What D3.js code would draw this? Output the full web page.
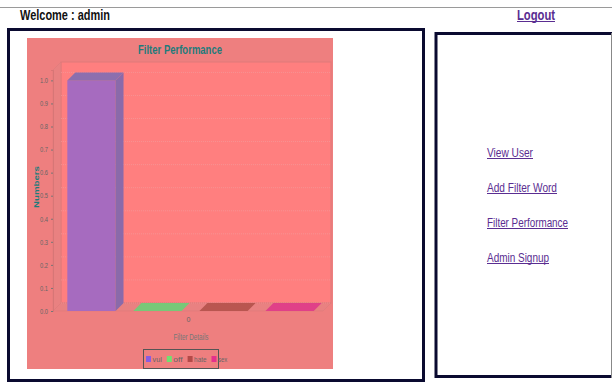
<!DOCTYPE html>
<html lang="en">
<head>
<meta charset="utf-8">
<title>Filter Performance</title>
<script src="https://cdn.jsdelivr.net/npm/d3@7"></script>
<style>
  body { margin: 0; background: #fff; }
  svg { display: block; font-family: "Liberation Sans", Arial, sans-serif; }
</style>
</head>
<body>
<script>
// data
const categories = ["0"];
const seriesNames = ["vul", "off", "hate", "sex"];
const seriesValues = [1, 0, 0, 0];
const menuLinks = ["View User", "Add Filter Word", "Filter Performance", "Admin Signup"];

const W = 612, H = 383;
const svg = d3.select("body").append("svg").attr("width", W).attr("height", H);

// page header
svg.append("line").attr("x1", 0).attr("x2", W).attr("y1", 7.5).attr("y2", 7.5)
   .attr("stroke", "#9a9a9a");
svg.append("text").text("Welcome : admin")
   .attr("x", 20).attr("y", 20).attr("font-size", 14).attr("font-weight", "bold")
   .attr("textLength", 90).attr("lengthAdjust", "spacingAndGlyphs").attr("fill", "#111");
svg.append("text").text("Logout")
   .attr("x", 517).attr("y", 20).attr("font-size", 14).attr("font-weight", "bold")
   .attr("textLength", 38).attr("lengthAdjust", "spacingAndGlyphs").attr("fill", "#5a2d91");
svg.append("line").attr("x1", 517).attr("x2", 555).attr("y1", 21.5).attr("y2", 21.5)
   .attr("stroke", "#5a2d91").attr("stroke-width", 1.2);

// panels
svg.append("rect").attr("x", 8.5).attr("y", 29.5).attr("width", 415).attr("height", 351)
   .attr("fill", "none").attr("stroke", "#0a0a30").attr("stroke-width", 3);
svg.append("rect").attr("x", 436).attr("y", 33.5).attr("width", 190).attr("height", 343)
   .attr("fill", "none").attr("stroke", "#0a0a30").attr("stroke-width", 3);
svg.append("rect").attr("x", 611).attr("y", 33).attr("width", 1).attr("height", 345).attr("fill", "#888");

// menu links
const linkW = {"View User": 46, "Add Filter Word": 70, "Filter Performance": 81, "Admin Signup": 62};
const linkY = d3.scalePoint().domain(menuLinks).range([152, 257]);
const links = svg.selectAll("g.link").data(menuLinks).enter().append("g").attr("class", "link");
links.append("text").text(d => d)
   .attr("x", 487).attr("y", d => linkY(d) + 4.5)
   .attr("font-size", 13).attr("fill", "#5a2d91")
   .attr("textLength", d => linkW[d])
   .attr("lengthAdjust", "spacingAndGlyphs");
links.append("line")
   .attr("x1", 487).attr("x2", d => 487 + linkW[d])
   .attr("y1", d => linkY(d) + 6.5).attr("y2", d => linkY(d) + 6.5)
   .attr("stroke", "#5a2d91");

// chart image
const chart = svg.append("g");
chart.append("rect").attr("x", 27).attr("y", 38).attr("width", 306).attr("height", 331).attr("fill", "#ee7f7f");
chart.append("text").text("Filter Performance")
   .attr("x", 180).attr("y", 54).attr("text-anchor", "middle")
   .attr("font-size", 13).attr("font-weight", "bold").attr("fill", "#1e7b7b")
   .attr("textLength", 84).attr("lengthAdjust", "spacingAndGlyphs");

const dx = 8, dy = 8;
const plotL = 53, plotR = 323, plotT = 70, plotB = 311;
const y = d3.scaleLinear().domain([0, 1.045]).range([plotB, plotT]);
const x0 = d3.scaleBand().domain(categories).range([55, 326]).paddingOuter(0.05);
const x1 = d3.scaleBand().domain(seriesNames).range([0, x0.bandwidth()]).paddingInner(0.27);

// walls
chart.append("rect").attr("x", plotL + dx).attr("y", plotT - dy)
   .attr("width", plotR - plotL).attr("height", plotB - plotT)
   .attr("fill", "#ff7f7f").attr("stroke", "#e07a7a");
chart.append("polygon")
   .attr("points", [[plotL, plotT], [plotL + dx, plotT - dy], [plotL + dx, plotB - dy], [plotL, plotB]].join(" "))
   .attr("fill", "#e98181").attr("stroke", "#dd7a7a").attr("stroke-width", 0.6);
chart.append("polygon")
   .attr("points", [[plotL, plotB], [plotL + dx, plotB - dy], [plotR + dx, plotB - dy], [plotR, plotB]].join(" "))
   .attr("fill", "#e98181").attr("stroke", "#dd7a7a").attr("stroke-width", 0.6);

// gridlines on back wall
chart.selectAll("line.grid").data(y.ticks(10)).enter().append("line").attr("class", "grid")
   .attr("x1", plotL + dx).attr("x2", plotR + dx)
   .attr("y1", d => y(d) - dy).attr("y2", d => y(d) - dy)
   .attr("stroke", "#f2a0a0").attr("stroke-width", 0.6).attr("stroke-dasharray", "1,1");

// y axis
const yAxis = chart.append("g").attr("transform", `translate(${plotL},0)`)
   .call(d3.axisLeft(y).ticks(10).tickFormat(d3.format(".1f")).tickSize(2).tickPadding(3));
yAxis.select(".domain").attr("stroke", "#cc7070").attr("stroke-width", 0.6);
yAxis.selectAll(".tick line").attr("stroke", "#777");
yAxis.selectAll(".tick text").attr("font-size", 7).attr("fill", "#666")
   .attr("font-family", "'Liberation Sans', Arial, sans-serif")
   .attr("textLength", 8).attr("lengthAdjust", "spacingAndGlyphs");
chart.append("text").text("Numbers")
   .attr("transform", "translate(38.5,187) rotate(-90)").attr("text-anchor", "middle")
   .attr("font-size", 8).attr("font-weight", "bold").attr("fill", "#1e7b7b")
   .attr("textLength", 42).attr("lengthAdjust", "spacingAndGlyphs");

// bars
const front = {vul: "#a66bbf", off: "#80cc80", hate: "#c05a52", sex: "#e8458c"};
const side = {vul: "#8a6aaa", off: "#72b872", hate: "#a85048", sex: "#cc3d7a"};
const topC = {vul: "#8c6fae", off: "#78c878", hate: "#b95650", sex: "#e04088"};
const bars = chart.selectAll("g.bar").data(seriesNames.map((s, i) => ({s, v: seriesValues[i]})))
   .enter().append("g").attr("class", "bar");
bars.each(function (d) {
  const g = d3.select(this);
  const bx = x0(categories[0]) + x1(d.s), bw = x1.bandwidth();
  const t = y(d.v), b = y(0);
  if (b - t > 0) {
    g.append("rect").attr("x", bx).attr("y", t).attr("width", bw).attr("height", b - t).attr("fill", front[d.s]);
    g.append("polygon").attr("fill", side[d.s])
     .attr("points", [[bx + bw, t], [bx + bw + dx, t - dy], [bx + bw + dx, b - dy], [bx + bw, b]].join(" "));
  }
  g.append("polygon").attr("fill", topC[d.s])
   .attr("points", [[bx, t], [bx + dx, t - dy], [bx + bw + dx, t - dy], [bx + bw, t]].join(" "));
});

// x axis labels
chart.selectAll("text.cat").data(categories).enter().append("text").attr("class", "cat")
   .text(d => d).attr("x", d => x0(d) + x0.bandwidth() / 2 - 2).attr("y", 322)
   .attr("text-anchor", "middle").attr("font-size", 7).attr("fill", "#666");
chart.append("text").text("Filter Details")
   .attr("x", 191).attr("y", 340).attr("text-anchor", "middle")
   .attr("font-size", 9).attr("fill", "#777")
   .attr("textLength", 35).attr("lengthAdjust", "spacingAndGlyphs");

// legend
const legendColor = {vul: "#8a5ce0", off: "#70e070", hate: "#b44a48", sex: "#e4308c"};
const legend = chart.append("g");
legend.append("rect").attr("x", 143.5).attr("y", 349.5).attr("width", 75).attr("height", 19)
   .attr("fill", "none").attr("stroke", "#555");
let lx = 146;
seriesNames.forEach(s => {
  legend.append("rect").attr("x", lx).attr("y", 356).attr("width", 5).attr("height", 6).attr("fill", legendColor[s]);
  legend.append("text").text(s).attr("x", lx + 6.5).attr("y", 362)
     .attr("font-size", 8).attr("fill", "#666")
     .attr("textLength", s.length * 3.1).attr("lengthAdjust", "spacingAndGlyphs");
  lx += 6.5 + s.length * 3.1 + 5;
});
</script>
</body>
</html>
